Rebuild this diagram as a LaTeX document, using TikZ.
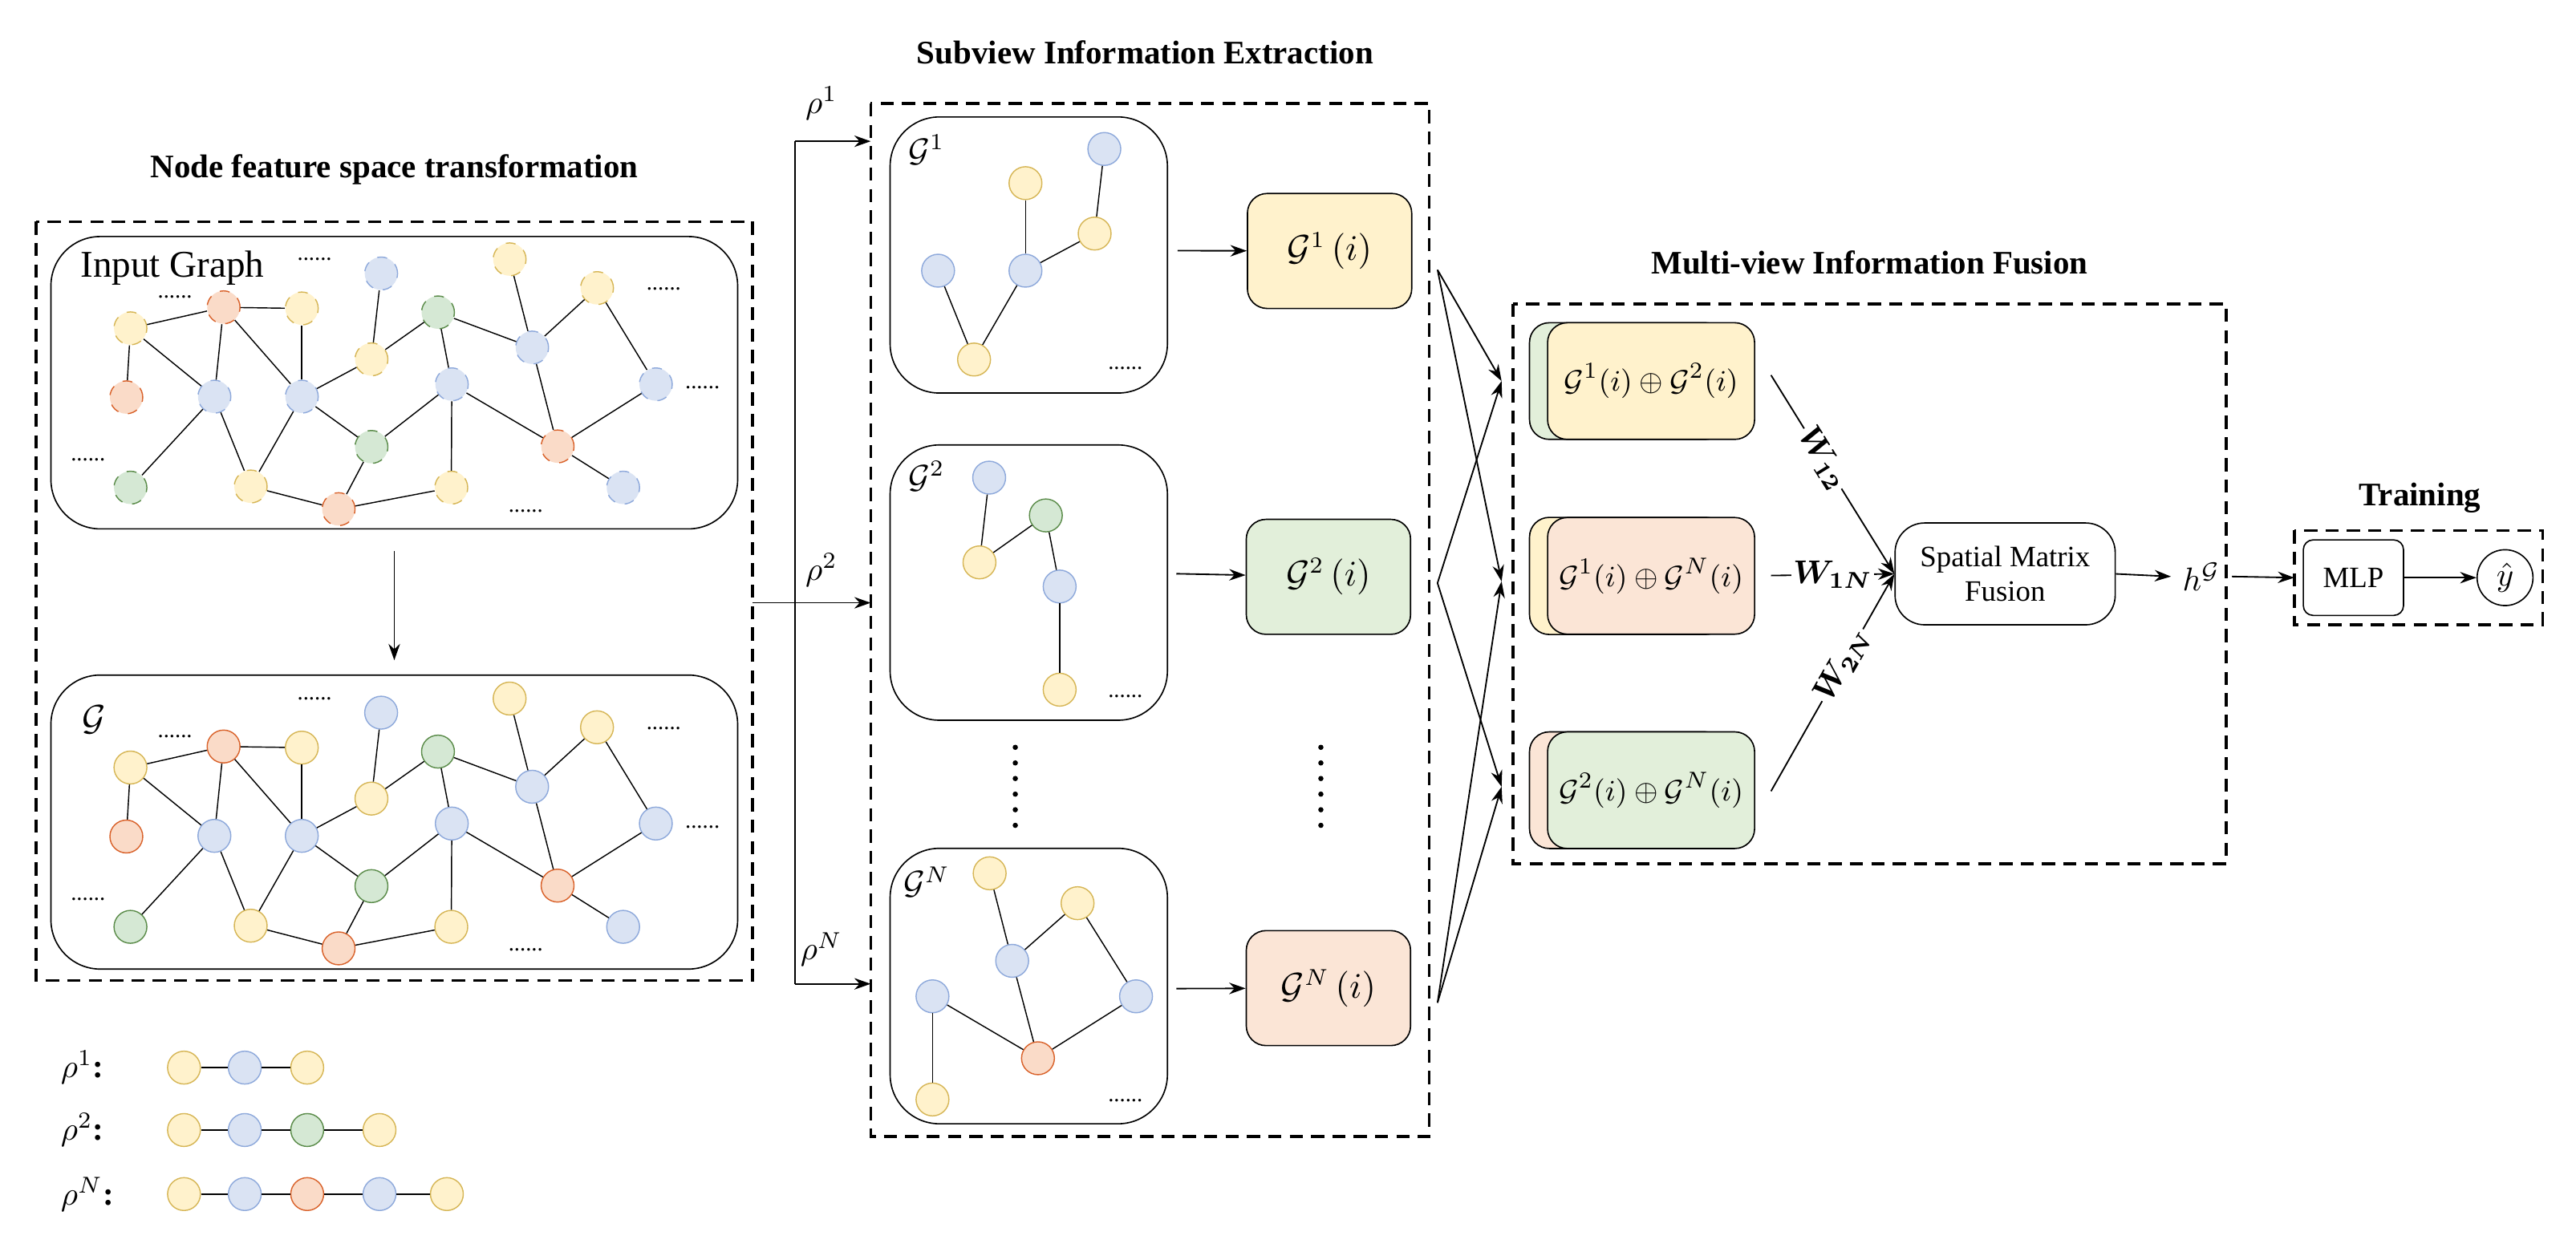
\documentclass[tikz,border=0pt]{standalone}
\usepackage{amsmath}
\usepackage{fontspec}
\setmainfont{Liberation Serif}
\usetikzlibrary{arrows.meta}
\definecolor{yF}{HTML}{FFF2CC}\definecolor{yD}{HTML}{D6B656}
\definecolor{bF}{HTML}{DAE3F3}\definecolor{bD}{HTML}{8EA9DB}
\definecolor{gF}{HTML}{D5E8D4}\definecolor{gD}{HTML}{5B8C4A}
\definecolor{oF}{HTML}{FADBC8}\definecolor{oD}{HTML}{D9622B}
\definecolor{gbF}{HTML}{E2EFDA}\definecolor{obF}{HTML}{FBE5D6}
\tikzset{
 nd/.style={circle,minimum size=10pt,inner sep=0pt,line width=0.35pt},
 Y/.style={nd,fill=yF,draw=yD},B/.style={nd,fill=bF,draw=bD},
 Gn/.style={nd,fill=gF,draw=gD},O/.style={nd,fill=oF,draw=oD},
 e/.style={line width=0.35pt},
 dsh/.style={draw,dashed,line width=0.9pt,dash pattern=on 4pt off 2.5pt},
 rbox/.style={draw,line width=0.4pt,rounded corners=15pt},
 title/.style={font=\fontsize{10}{12}\selectfont\bfseries},
 ar/.style={-{Stealth[length=5pt,width=3.5pt]},line width=0.45pt},
 dots/.style={font=\fontsize{7}{8}\selectfont},
 gi/.style={draw,rounded corners=6pt,minimum width=50pt,minimum height=35pt,line width=0.4pt,font=\fontsize{10.5}{12}\selectfont},
 fb/.style={draw,rounded corners=6pt,minimum width=63pt,minimum height=35.5pt,line width=0.4pt,font=\fontsize{9.5}{11}\selectfont},
}
\newcommand\mygraph[3]{%
\begin{scope}[shift={(0,#2)},every node/.append style={#3}]
\node[Y] (#1n1) at (79.4,199.9){};\node[O] (#1n2) at (136.1,187.1){};
\node[Y] (#1n3) at (183.7,187.8){};\node[O] (#1n4) at (76.9,241.9){};
\node[B] (#1n5) at (130.5,241.5){};\node[B] (#1n6) at (183.7,241.5){};
\node[Y] (#1n7) at (226.1,218.8){};\node[B] (#1n8) at (232,166.5){};
\node[Gn] (#1n9) at (266.6,190.2){};\node[B] (#1n10) at (275,234){};
\node[Gn] (#1n11) at (226.1,272.1){};\node[Y] (#1n12) at (152.6,296.2){};
\node[O] (#1n13) at (206.1,310){};\node[Y] (#1n14) at (274.7,296.9){};
\node[Gn] (#1n15) at (79.4,296.9){};\node[Y] (#1n16) at (310.2,157.9){};
\node[B] (#1n17) at (323.9,211.6){};\node[Y] (#1n18) at (363.4,175.4){};
\node[B] (#1n19) at (399.2,234){};\node[O] (#1n20) at (339.4,271.8){};
\node[B] (#1n21) at (379.3,296.9){};
\foreach \a/\b in {1/2,2/3,1/4,1/5,2/5,2/6,3/6,5/15,5/12,6/12,6/7,6/11,7/8,7/9,9/10,9/17,16/17,17/18,17/20,18/19,19/20,20/21,10/11,10/20,10/14,11/13,12/13,13/14}
  \draw[e,solid] (#1n\a) -- (#1n\b);
\node[dots,solid,draw=none] (#1d1) at (191.5,158){......};
\node[dots,solid,draw=none] (#1d2) at (106.5,181){......};
\node[dots,solid,draw=none] (#1d3) at (404,176){......};
\node[dots,solid,draw=none] (#1d4) at (427.6,236){......};
\node[dots,solid,draw=none] (#1d5) at (53.6,280){......};
\node[dots,solid,draw=none] (#1d6) at (320,311){......};
\end{scope}}
\begin{document}
\begin{tikzpicture}[x=0.5pt,y=-0.5pt]
\useasboundingbox (0,0) rectangle (1568,767);
% ---------- left panel
\node[title] (t1) at (240,103) {Node feature space transformation};
\draw[dsh] (22,135) rectangle (458,597);
\draw[rbox] (31,144) rectangle (449,322);
\draw[rbox] (31,411) rectangle (449,590);
\node[font=\fontsize{11.5}{13}\selectfont,anchor=west] (ig) at (42,163) {Input Graph};
\node[font=\fontsize{11}{13}\selectfont] (gl) at (57,438) {$\mathcal{G}$};
\mygraph{a}{0}{dashed}
\mygraph{b}{267.4}{}
\coordinate (ga) at (240,335.5); \coordinate (gb) at (240,402);
\draw[ar] (ga) -- (gb);
% legend
\node[anchor=west] (r1) at (30,650) {$\rho^1$\textbf{:}};
\node[anchor=west] (r2) at (30,688) {$\rho^2$\textbf{:}};
\node[anchor=west] (r3) at (30,727) {$\rho^N$\textbf{:}};
\node[Y] (l11) at (112,650){};\node[B] (l12) at (149,650){};\node[Y] (l13) at (187,650){};
\draw[e] (l11)--(l12)--(l13);
\node[Y] (l21) at (112,688){};\node[B] (l22) at (149,688){};\node[Gn] (l23) at (187,688){};\node[Y] (l24) at (231,688){};
\draw[e] (l21)--(l22)--(l23)--(l24);
\node[Y] (l31) at (112,727){};\node[B] (l32) at (149,727){};\node[O] (l33) at (187,727){};\node[B] (l34) at (231,727){};\node[Y] (l35) at (272,727){};
\draw[e] (l31)--(l32)--(l33)--(l34)--(l35);
% ---------- bracket
\coordinate (br0) at (458,367); \coordinate (brm) at (484,367);
\coordinate (brt) at (484,86); \coordinate (brb) at (484,599);
\coordinate (p1) at (530,86); \coordinate (p2) at (530,367); \coordinate (p3) at (530,599);
\draw[e] (br0) -- (brm); \draw[e] (brt) -- (brb);
\draw[ar] (brt) -- (p1); \draw[ar] (brm) -- (p2); \draw[ar] (brb) -- (p3);
\node (rho1) at (500,63) {$\rho^1$};
\node (rho2) at (500,347) {$\rho^2$};
\node (rhoN) at (500,578) {$\rho^N$};
% ---------- middle panel
\node[title] (t2) at (697,32) {Subview Information Extraction};
\draw[dsh] (530,63) rectangle (870,692);
\draw[rbox] (541.8,71.2) rectangle (710.6,239.3);
\draw[rbox] (541.8,270.9) rectangle (710.6,438.5);
\draw[rbox] (541.8,516.5) rectangle (710.6,684.2);
\node (g1l) at (564,91) {$\mathcal{G}^1$};
\node (g2l) at (564,290) {$\mathcal{G}^2$};
\node (gNl) at (564,537) {$\mathcal{G}^N$};
% G1
\node[B] (c1) at (672.2,90.7){};\node[Y] (c2) at (624.2,111.5){};\node[Y] (c3) at (666.3,142.2){};
\node[B] (c4) at (571,164.8){};\node[B] (c5) at (624.2,164.8){};\node[Y] (c6) at (592.9,218.9){};
\draw[e] (c1)--(c3); \draw[e] (c2)--(c5); \draw[e] (c5)--(c3); \draw[e] (c4)--(c6); \draw[e] (c6)--(c5);
\node[dots] (cd1) at (685,224) {......};
% G2
\node[B] (d1) at (602.1,290.8){};\node[Gn] (d2) at (636.6,313.8){};\node[Y] (d3) at (596.2,342.4){};
\node[B] (d4) at (645,357.1){};\node[Y] (d5) at (645,419.9){};
\draw[e] (d1)--(d3); \draw[e] (d3)--(d2); \draw[e] (d2)--(d4); \draw[e] (d4)--(d5);
\node[dots] (cd2) at (685,424) {......};
% GN
\node[Y] (f1) at (602.4,531.7){};\node[Y] (f2) at (655.9,549.9){};\node[B] (f3) at (616.1,585){};
\node[B] (f4) at (567.6,606.6){};\node[B] (f5) at (691.5,606.6){};\node[O] (f6) at (631.8,644.3){};
\node[Y] (f7) at (567.6,669.4){};
\draw[e] (f1)--(f3); \draw[e] (f3)--(f2); \draw[e] (f2)--(f5); \draw[e] (f4)--(f6); \draw[e] (f6)--(f5); \draw[e] (f3)--(f6); \draw[e] (f4)--(f7);
\node[dots] (cd3) at (685,670) {......};
% vertical dots
\foreach \yy in {455,464.5,474,483.5,493,502.5}{\fill (618,\yy) circle (0.8pt); \fill (804,\yy) circle (0.8pt);}
% G(i)
\node[gi,fill=yF] (gi1) at (809.3,152.8) {$\mathcal{G}^1\,(i)$};
\node[gi,fill=gbF] (gi2) at (808.6,351.2) {$\mathcal{G}^2\,(i)$};
\node[gi,fill=obF] (giN) at (808.6,601.6) {$\mathcal{G}^N\,(i)$};
\coordinate (a1) at (716.8,152.6); \coordinate (a2) at (716,349.3); \coordinate (a3) at (716,601.9);
\draw[ar] (a1) -- (gi1); \draw[ar] (a2) -- (gi2); \draw[ar] (a3) -- (giN);
% crossing arrows
\coordinate (s1) at (875,164.3); \coordinate (s2) at (875,355); \coordinate (s3) at (875,610.5);
\coordinate (u1) at (914,232); \coordinate (u2) at (914,354); \coordinate (u3) at (914,479);
\draw[ar] (s1) -- (u1); \draw[ar] (s1) -- (u2);
\draw[ar] (s2) -- (u1); \draw[ar] (s2) -- (u3);
\draw[ar] (s3) -- (u2); \draw[ar] (s3) -- (u3);
% ---------- fusion
\node[title] (t3) at (1138,160) {Multi-view Information Fusion};
\draw[dsh] (921,185) rectangle (1355,526);
\draw[line width=0.4pt,rounded corners=6pt,fill=gbF] (931,196.5) rectangle (1050,267.5);
\node[fb,fill=yF] (m1) at (1005,232) {$\mathcal{G}^1(i)\oplus\mathcal{G}^2(i)$};
\draw[line width=0.4pt,rounded corners=6pt,fill=yF] (931,315) rectangle (1050,386.3);
\node[fb,fill=obF] (m2) at (1005,350.6) {$\mathcal{G}^1(i)\oplus\mathcal{G}^N(i)$};
\draw[line width=0.4pt,rounded corners=6pt,fill=obF] (931,445.6) rectangle (1050,516.6);
\node[fb,fill=gbF] (m3) at (1005,481.1) {$\mathcal{G}^2(i)\oplus\mathcal{G}^N(i)$};
\node[draw,rounded corners=9pt,minimum width=67pt,minimum height=31pt,line width=0.4pt,align=center,font=\fontsize{9}{10.5}\selectfont] (smf) at (1220.5,349.4) {Spatial Matrix\\Fusion};
\coordinate (w1) at (1078,228.4); \coordinate (w2) at (1078,350.4); \coordinate (w3) at (1078,481.7);
\draw[ar] (w1) -- node[sloped,fill=white,inner sep=0.5pt,pos=0.42]{$\boldsymbol{W_{12}}$} (smf.west);
\draw[ar] (w2) -- node[fill=white,inner sep=0.5pt]{$\boldsymbol{W_{1N}}$} (smf.west);
\draw[ar] (w3) -- node[sloped,fill=white,inner sep=0.5pt,pos=0.58]{$\boldsymbol{W_{2N}}$} (smf.west);
\node (hg) at (1340,351) {$h^{\mathcal{G}}$};
\draw[ar] (smf.east) -- (hg.west);
% ---------- training
\node[title] (t4) at (1473,303) {Training};
\draw[dsh] (1396.5,323) rectangle (1547.7,380.3);
\node[draw,rounded corners=3pt,minimum width=30.5pt,minimum height=23pt,line width=0.4pt,font=\fontsize{9}{10}\selectfont] (mlp) at (1432.5,351.7) {MLP};
\node[draw,circle,minimum size=17pt,inner sep=0pt,line width=0.4pt] (yh) at (1524.8,351.7) {$\hat{y}$};
\coordinate (tin) at (1396.5,351.7);
\draw[ar] (hg.east) -- (tin);
\draw[ar] (mlp) -- (yh);
\end{tikzpicture}
\end{document}
